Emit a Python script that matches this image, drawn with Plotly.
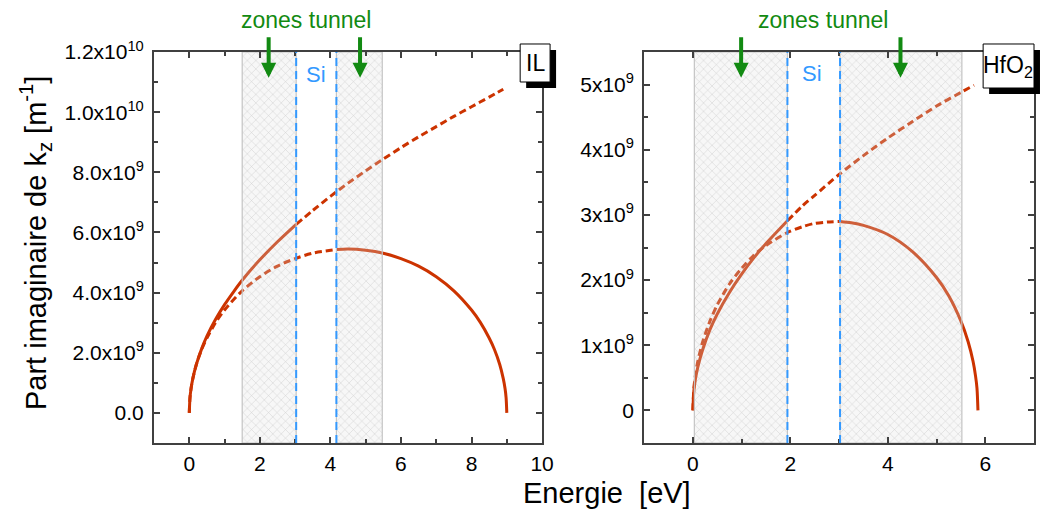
import plotly.graph_objects as go

# ---------------- data (k in units of 1e9 m^-1, E in eV) ----------------
IL_parab_E = [0, 0.02, 0.05, 0.1, 0.2, 0.35, 0.5, 0.75, 1.0, 1.25, 1.5, 2.0, 2.5, 3.03,
              3.5, 4.0, 4.5, 5.0, 5.5, 6.0, 6.5, 7.0, 7.5, 8.0, 8.5, 8.9]
IL_parab_k = [0, 0.51, 0.80, 1.14, 1.61, 2.13, 2.55, 3.12, 3.60, 4.02, 4.41, 5.09, 5.69, 6.27,
              6.73, 7.20, 7.64, 8.05, 8.44, 8.82, 9.18, 9.52, 9.86, 10.18, 10.50, 10.76]
IL_band_E = [0, 0.02, 0.05, 0.1, 0.2, 0.35, 0.5, 0.75, 1.0, 1.5, 2.0, 2.5, 3.0, 3.5, 4.17,
             4.5, 5.0, 5.5, 6.0, 6.5, 7.0, 7.5, 8.0, 8.25, 8.5, 8.65, 8.8, 8.9, 8.95, 8.98, 9.0]
IL_band_k = [0, 0.51, 0.81, 1.14, 1.61, 2.11, 2.49, 3.01, 3.42, 4.06, 4.53, 4.88, 5.13, 5.31, 5.43,
             5.45, 5.41, 5.31, 5.13, 4.88, 4.53, 4.06, 3.42, 3.01, 2.49, 2.11, 1.61, 1.14, 0.81, 0.51, 0]

HF_parab_E = [0, 0.02, 0.05, 0.1, 0.2, 0.35, 0.5, 0.75, 1.0, 1.25, 1.5, 1.94, 2.25, 2.5,
              3.0, 3.5, 4.0, 4.5, 5.0, 5.5, 5.77]
HF_parab_k = [0, 0.30, 0.47, 0.66, 0.93, 1.24, 1.48, 1.81, 2.09, 2.34, 2.56, 2.91, 3.14, 3.30,
              3.62, 3.91, 4.18, 4.43, 4.67, 4.88, 4.99]
HF_band_E = [0, 0.02, 0.05, 0.1, 0.2, 0.35, 0.5, 0.75, 1.0, 1.25, 1.5, 1.94, 2.25, 2.5, 2.75,
             3.02, 3.25, 3.5, 4.0, 4.5, 5.0, 5.25, 5.5, 5.65, 5.75, 5.8, 5.83, 5.85]
HF_band_k = [0, 0.34, 0.53, 0.75, 1.05, 1.37, 1.62, 1.94, 2.18, 2.38, 2.53, 2.73, 2.82, 2.87, 2.89,
             2.90, 2.88, 2.84, 2.70, 2.44, 2.04, 1.76, 1.37, 1.05, 0.75, 0.53, 0.34, 0]

IL_zones = [(1.50, 3.03), (4.17, 5.47)]
IL_si_edges = [3.03, 4.17]
IL_arrow_E = [2.25, 4.84]
HF_zones = [(0.03, 1.94), (3.02, 5.52)]
HF_si_edges = [1.94, 3.02]
HF_arrow_E = [0.99, 4.26]

IL_xrange = [-1, 10]
IL_yrange = [-1e9, 1.2e10]
HF_xrange = [-1, 7]
HF_yrange = [-0.5e9, 5.5e9]

IL_yticks = [0, 2e9, 4e9, 6e9, 8e9, 1e10, 1.2e10]
IL_yticktext = ["0.0", "2.0x10<sup>9</sup>", "4.0x10<sup>9</sup>", "6.0x10<sup>9</sup>",
                "8.0x10<sup>9</sup>", "1.0x10<sup>10</sup>", "1.2x10<sup>10</sup>"]
HF_yticks = [0, 1e9, 2e9, 3e9, 4e9, 5e9]
HF_yticktext = ["0", "1x10<sup>9</sup>", "2x10<sup>9</sup>", "3x10<sup>9</sup>",
                "4x10<sup>9</sup>", "5x10<sup>9</sup>"]
xticks_IL = [0, 2, 4, 6, 8, 10]
xticks_HF = [0, 2, 4, 6]

SCALE = 1e9
RED = "#CC3300"
BLUE = "#3399FF"
GREEN = "#128A12"
AX = "#404040"
FONT = "Liberation Sans, Arial, sans-serif"

fig = go.Figure()


def split(E, k, s):
    a = [(e, v) for e, v in zip(E, k) if e <= s]
    b = [(e, v) for e, v in zip(E, k) if e >= s]
    return a, b


def add_line(pts, dashed, xa, ya):
    fig.add_trace(go.Scatter(
        x=[p[0] for p in pts], y=[p[1] * SCALE for p in pts], mode="lines",
        line=dict(color=RED, width=3,
                  dash="7px,4px" if dashed else "solid", shape="spline", smoothing=0.8),
        xaxis=xa, yaxis=ya, showlegend=False, hoverinfo="skip"))


def panel(parabE, parabk, parabS, bandE, bandk, bandS, zones, xa, ya, yr):
    pa, pb = split(parabE, parabk, parabS)
    ba, bb = split(bandE, bandk, bandS)
    add_line(pb, True, xa, ya)
    add_line(ba, True, xa, ya)
    add_line(bb, False, xa, ya)
    add_line(pa, False, xa, ya)
    for z0, z1 in zones:
        fig.add_trace(go.Scatter(
            x=[z0, z1, z1, z0, z0], y=[yr[0], yr[0], yr[1], yr[1], yr[0]],
            mode="lines", fill="toself",
            fillcolor="rgba(220,220,220,0.25)",
            fillpattern=dict(shape="x", size=6, solidity=0.15,
                             fgcolor="rgba(125,125,125,0.7)",
                             bgcolor="rgba(225,225,225,0.25)"),
            line=dict(color="#C4C4C4", width=1.2),
            xaxis=xa, yaxis=ya, showlegend=False, hoverinfo="skip"))


panel(IL_parab_E, IL_parab_k, IL_si_edges[0], IL_band_E, IL_band_k, IL_si_edges[1],
      IL_zones, "x", "y", IL_yrange)
panel(HF_parab_E, HF_parab_k, HF_si_edges[0], HF_band_E, HF_band_k, HF_si_edges[1],
      HF_zones, "x2", "y2", HF_yrange)

shapes = []
for xs, xr, yr in [(IL_si_edges, "x", "y domain"), (HF_si_edges, "x2", "y2 domain")]:
    for e in xs:
        shapes.append(dict(type="line", xref=xr, yref=yr, x0=e, x1=e, y0=0, y1=1,
                           line=dict(color=BLUE, width=2, dash="8px,5px")))


def box(x0, x1, y0, y1, dx, dy):
    shapes.append(dict(type="rect", xref="paper", yref="paper",
                       x0=x0 + dx, x1=x1 + dx, y0=y0 - dy, y1=y1 - dy,
                       fillcolor="black", line=dict(width=0)))
    shapes.append(dict(type="rect", xref="paper", yref="paper",
                       x0=x0, x1=x1, y0=y0, y1=y1,
                       fillcolor="white", line=dict(color="black", width=1)))


box(0.4161, 0.4501, 0.9233, 1.0205, 0.0068, 0.0154)
box(0.9422, 1.0000, 0.9079, 1.0205, 0.0068, 0.0154)

ann = []
for es, xr, yr, tx in [(IL_arrow_E, "x", "y domain", 3.3), (HF_arrow_E, "x2", "y2 domain", 2.66)]:
    for e in es:
        ann.append(dict(x=e, y=0.934, xref=xr, yref=yr, text="", showarrow=True,
                        ax=0, ay=-42, arrowhead=2, arrowsize=0.75, arrowwidth=4,
                        arrowcolor=GREEN))
    ann.append(dict(x=tx, y=1.083, xref=xr, yref=yr, text="zones tunnel", showarrow=False,
                    font=dict(size=23, color=GREEN, family=FONT),
                    xanchor="center", yanchor="middle"))
ann.append(dict(x=3.59, y=0.942, xref="x", yref="y domain", text="Si", showarrow=False,
                font=dict(size=22, color=BLUE, family=FONT), xanchor="center", yanchor="middle"))
ann.append(dict(x=2.45, y=0.944, xref="x2", yref="y2 domain", text="Si", showarrow=False,
                font=dict(size=22, color=BLUE, family=FONT), xanchor="center", yanchor="middle"))
ann.append(dict(x=0.433, y=0.972, xref="paper", yref="paper", text="IL", showarrow=False,
                font=dict(size=23, color="black", family=FONT), xanchor="center", yanchor="middle"))
ann.append(dict(x=0.9705, y=0.962, xref="paper", yref="paper", text="HfO<sub>2</sub>",
                showarrow=False, font=dict(size=23, color="black", family=FONT),
                xanchor="center", yanchor="middle"))
ann.append(dict(x=0.515, y=-0.128, xref="paper", yref="paper", text="Energie&#160; [eV]",
                showarrow=False, font=dict(size=29, color="black", family=FONT),
                xanchor="center", yanchor="middle"))
ann.append(dict(x=-0.135, y=0.512, xref="paper", yref="paper",
                text="Part imaginaire de k<sub>z</sub> [m<sup>-1</sup>]", textangle=-90,
                showarrow=False, font=dict(size=29, color="black", family=FONT),
                xanchor="center", yanchor="middle"))

common = dict(showline=True, linecolor=AX, linewidth=2, mirror="allticks", ticks="inside",
              ticklen=6, tickwidth=1.5, tickcolor=AX, showgrid=False, zeroline=False,
              tickfont=dict(size=21, color="black", family=FONT))
minor_common = dict(tick0=0, ticks="inside", ticklen=4, tickcolor=AX, tickwidth=1.5)

fig.update_layout(
    width=1048, height=514,
    margin=dict(l=154, r=2, t=52, b=71),
    paper_bgcolor="white", plot_bgcolor="white",
    xaxis=dict(domain=[0, 0.441], range=IL_xrange, anchor="y", tickvals=xticks_IL,
               minor=dict(dtick=1, **minor_common), ticklabelstandoff=1, **common),
    yaxis=dict(domain=[0, 1], range=IL_yrange, anchor="x", tickvals=IL_yticks,
               ticktext=IL_yticktext, minor=dict(dtick=1e9, **minor_common),
               ticklabelstandoff=4, **common),
    xaxis2=dict(domain=[0.557, 1], range=HF_xrange, anchor="y2", tickvals=xticks_HF,
                minor=dict(dtick=1, **minor_common), ticklabelstandoff=1, **common),
    yaxis2=dict(domain=[0, 1], range=HF_yrange, anchor="x2", tickvals=HF_yticks,
                ticktext=HF_yticktext, minor=dict(dtick=0.5e9, **minor_common),
                ticklabelstandoff=4, **common),
    shapes=shapes, annotations=ann,
    font=dict(family=FONT),
)

fig.write_html(
    "out.html",
    config={"displayModeBar": False},
    post_script=("document.body.style.margin='0';"
                 "document.body.style.overflow='hidden';"
                 "document.documentElement.style.overflow='hidden';"),
)
